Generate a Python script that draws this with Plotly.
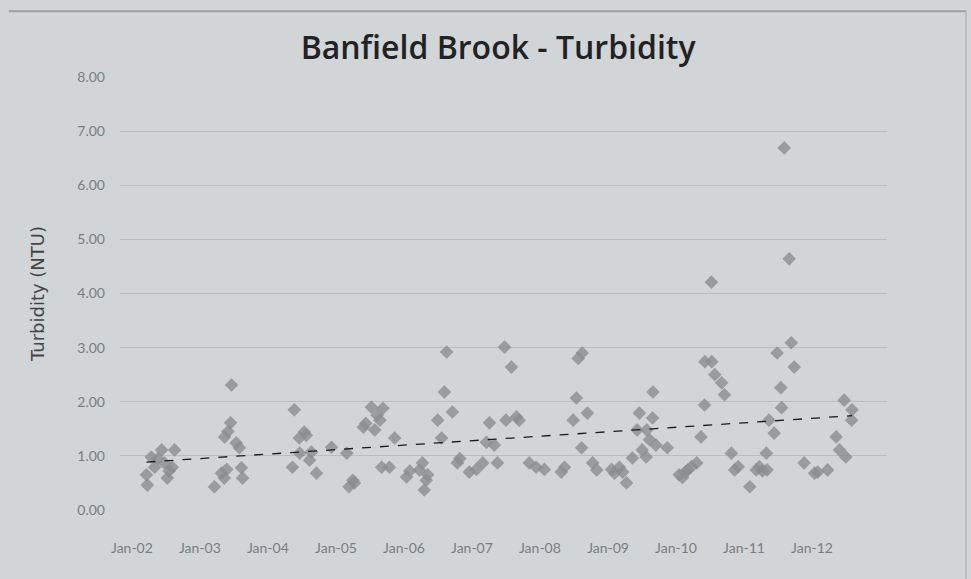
import numpy as np
import pandas as pd
import plotly.graph_objects as go

# ---- data ----
sample_dates = [
    "2002-03-20", "2002-03-25", "2002-04-15", "2002-05-03", "2002-05-20",
    "2002-06-10", "2002-06-25", "2002-07-10", "2002-07-20", "2002-08-06",
    "2002-08-18",
    "2003-03-20", "2003-04-27", "2003-05-12", "2003-05-14", "2003-05-25", "2003-06-01",
    "2003-06-15", "2003-06-20", "2003-07-15", "2003-08-01", "2003-08-12", "2003-08-18",
    "2004-05-12", "2004-05-22", "2004-06-18", "2004-06-20", "2004-07-15", "2004-07-25",
    "2004-08-12", "2004-08-22", "2004-09-18", "2004-12-08",
    "2005-02-28", "2005-03-12", "2005-04-01", "2005-04-10", "2005-05-28", "2005-06-10",
    "2005-07-10", "2005-07-28", "2005-08-10", "2005-08-25", "2005-09-03", "2005-09-10",
    "2005-10-15", "2005-11-12",
    "2006-01-15", "2006-02-01", "2006-03-25", "2006-04-10", "2006-04-20", "2006-05-01",
    "2006-05-08", "2006-07-01", "2006-07-22", "2006-08-06", "2006-08-18", "2006-09-18",
    "2006-10-15", "2006-10-28", "2006-12-18",
    "2007-01-25", "2007-02-28", "2007-03-20", "2007-04-05", "2007-05-01", "2007-05-18",
    "2007-06-25", "2007-07-03", "2007-08-01", "2007-08-28", "2007-09-12",
    "2007-11-05", "2007-12-12",
    "2008-01-25", "2008-04-25", "2008-05-12", "2008-06-28", "2008-07-15", "2008-07-25",
    "2008-08-12", "2008-08-15", "2008-09-12", "2008-10-10", "2008-11-01",
    "2009-01-20", "2009-02-05", "2009-03-03", "2009-03-20", "2009-04-10", "2009-05-12",
    "2009-06-06", "2009-06-18", "2009-07-03", "2009-07-25", "2009-07-28", "2009-08-12",
    "2009-08-28", "2009-08-30", "2009-09-15", "2009-11-15",
    "2010-01-18", "2010-02-05", "2010-02-20", "2010-03-05", "2010-03-25", "2010-04-22",
    "2010-05-15", "2010-06-03", "2010-06-05", "2010-07-10", "2010-07-12", "2010-07-28",
    "2010-09-03", "2010-09-18", "2010-10-25", "2010-11-12", "2010-12-01",
    "2011-02-01", "2011-03-08", "2011-03-25", "2011-04-10", "2011-05-01", "2011-05-05",
    "2011-05-15", "2011-06-12", "2011-06-28", "2011-07-18", "2011-07-22", "2011-08-05",
    "2011-09-01", "2011-09-12", "2011-09-28", "2011-11-20",
    "2012-01-15", "2012-02-01", "2012-03-25", "2012-05-10",
    "2012-05-28", "2012-06-22", "2012-07-01", "2012-08-01", "2012-08-03",
]
turbidity_ntu = [
    0.65, 0.46, 0.98, 0.79, 0.95,
    1.11, 0.87, 0.59, 0.72, 0.79,
    1.11,
    0.43, 0.68, 0.59, 1.35, 0.75, 1.45,
    1.61, 2.31, 1.24, 1.15, 0.78, 0.59,
    0.79, 1.85, 1.33, 1.05, 1.44, 1.38,
    0.92, 1.07, 0.68, 1.16,
    1.05, 0.43, 0.55, 0.50, 1.53, 1.60,
    1.90, 1.48, 1.75, 1.66, 0.79, 1.88,
    0.79, 1.33,
    0.61, 0.72, 0.74, 0.87, 0.37, 0.55,
    0.65, 1.66, 1.33, 2.18, 2.92, 1.81,
    0.87, 0.95, 0.70,
    0.75, 0.87, 1.25, 1.61, 1.20, 0.87,
    3.01, 1.66, 2.64, 1.72, 1.66,
    0.87, 0.79,
    0.75, 0.70, 0.79, 1.66, 2.07, 2.80,
    1.15, 2.90, 1.79, 0.87, 0.74,
    0.75, 0.68, 0.79, 0.70, 0.50, 0.96,
    1.48, 1.79, 1.11, 0.98, 1.48, 1.30,
    1.70, 2.18, 1.20, 1.15,
    0.65, 0.60, 0.70, 0.74, 0.80, 0.87,
    1.35, 1.94, 2.74, 4.21, 2.74, 2.50,
    2.35, 2.13, 1.05, 0.74, 0.80,
    0.43, 0.74, 0.80, 0.72, 1.05, 0.74,
    1.66, 1.42, 2.90, 2.26, 1.89, 6.69,
    4.64, 3.09, 2.64, 0.87,
    0.68, 0.70, 0.74, 1.35,
    1.11, 2.03, 0.98, 1.66, 1.85,
]
tick_dates = [f"{y}-01-01" for y in range(2002, 2013)]
tick_labels = ["Jan-02", "Jan-03", "Jan-04", "Jan-05", "Jan-06", "Jan-07",
               "Jan-08", "Jan-09", "Jan-10", "Jan-11", "Jan-12"]
y_ticks = [0, 1, 2, 3, 4, 5, 6, 7, 8]

# ---- linear trendline (least squares, like Excel's trendline) ----
d = pd.to_datetime(sample_dates)
t = (d - d.min()).days.values.astype(float)
slope, intercept = np.polyfit(t, np.array(turbidity_ntu), 1)
trend_x = [d.min(), d.max()]
trend_y = [intercept, intercept + slope * t.max()]

BG = "#d1d5d8"
fig = go.Figure()
fig.add_trace(go.Scatter(
    x=sample_dates, y=turbidity_ntu, mode="markers",
    marker=dict(symbol="diamond", size=10.5, color="rgba(138,141,144,0.8)",
                line=dict(width=0)),
    showlegend=False, hoverinfo="x+y"))
fig.add_trace(go.Scatter(
    x=trend_x, y=trend_y, mode="lines",
    line=dict(color="#1a1a1a", width=1.3, dash="dash"),
    showlegend=False))

fig.update_layout(
    width=971, height=579,
    paper_bgcolor=BG, plot_bgcolor=BG,
    margin=dict(l=120, r=84, t=77, b=69),
    title=dict(text="Banfield Brook - Turbidity", x=0.513, xanchor="center",
               y=0.917, yanchor="middle",
               font=dict(family="Open Sans", size=32, weight=600, color="#222222")),
    font=dict(family="Lato"),
    xaxis=dict(range=["2001-10-29", "2013-02-07"], tickvals=tick_dates,
               ticktext=tick_labels, showgrid=False, zeroline=False,
               showline=False, ticks="", ticklabelstandoff=28,
               tickfont=dict(size=14, color="#7a7d80")),
    yaxis=dict(range=[0, 8], tickvals=y_ticks, tickformat=".2f",
               showgrid=True, gridcolor="#b9bdc0", gridwidth=1,
               zeroline=False, showline=False, ticks="", ticklabelstandoff=14,
               tickfont=dict(size=14, color="#7a7d80"),
               title=dict(text="Turbidity (NTU)", standoff=28,
                          font=dict(family="DejaVu Sans", size=18, color="#444444"))),
    shapes=[
        dict(type="line", xref="paper", yref="paper", x0=-0.145, x1=1.103,
             y0=1.152, y1=1.152, line=dict(color="#9a9ea1", width=2)),
        dict(type="line", xref="paper", yref="paper", x0=1.103, x1=1.103,
             y0=-0.2, y1=1.152, line=dict(color="#b0b4b7", width=1.5)),
    ],
)

fig.write_html("out.html", post_script="document.body.style.margin='0';",
               config={"displayModeBar": False})
